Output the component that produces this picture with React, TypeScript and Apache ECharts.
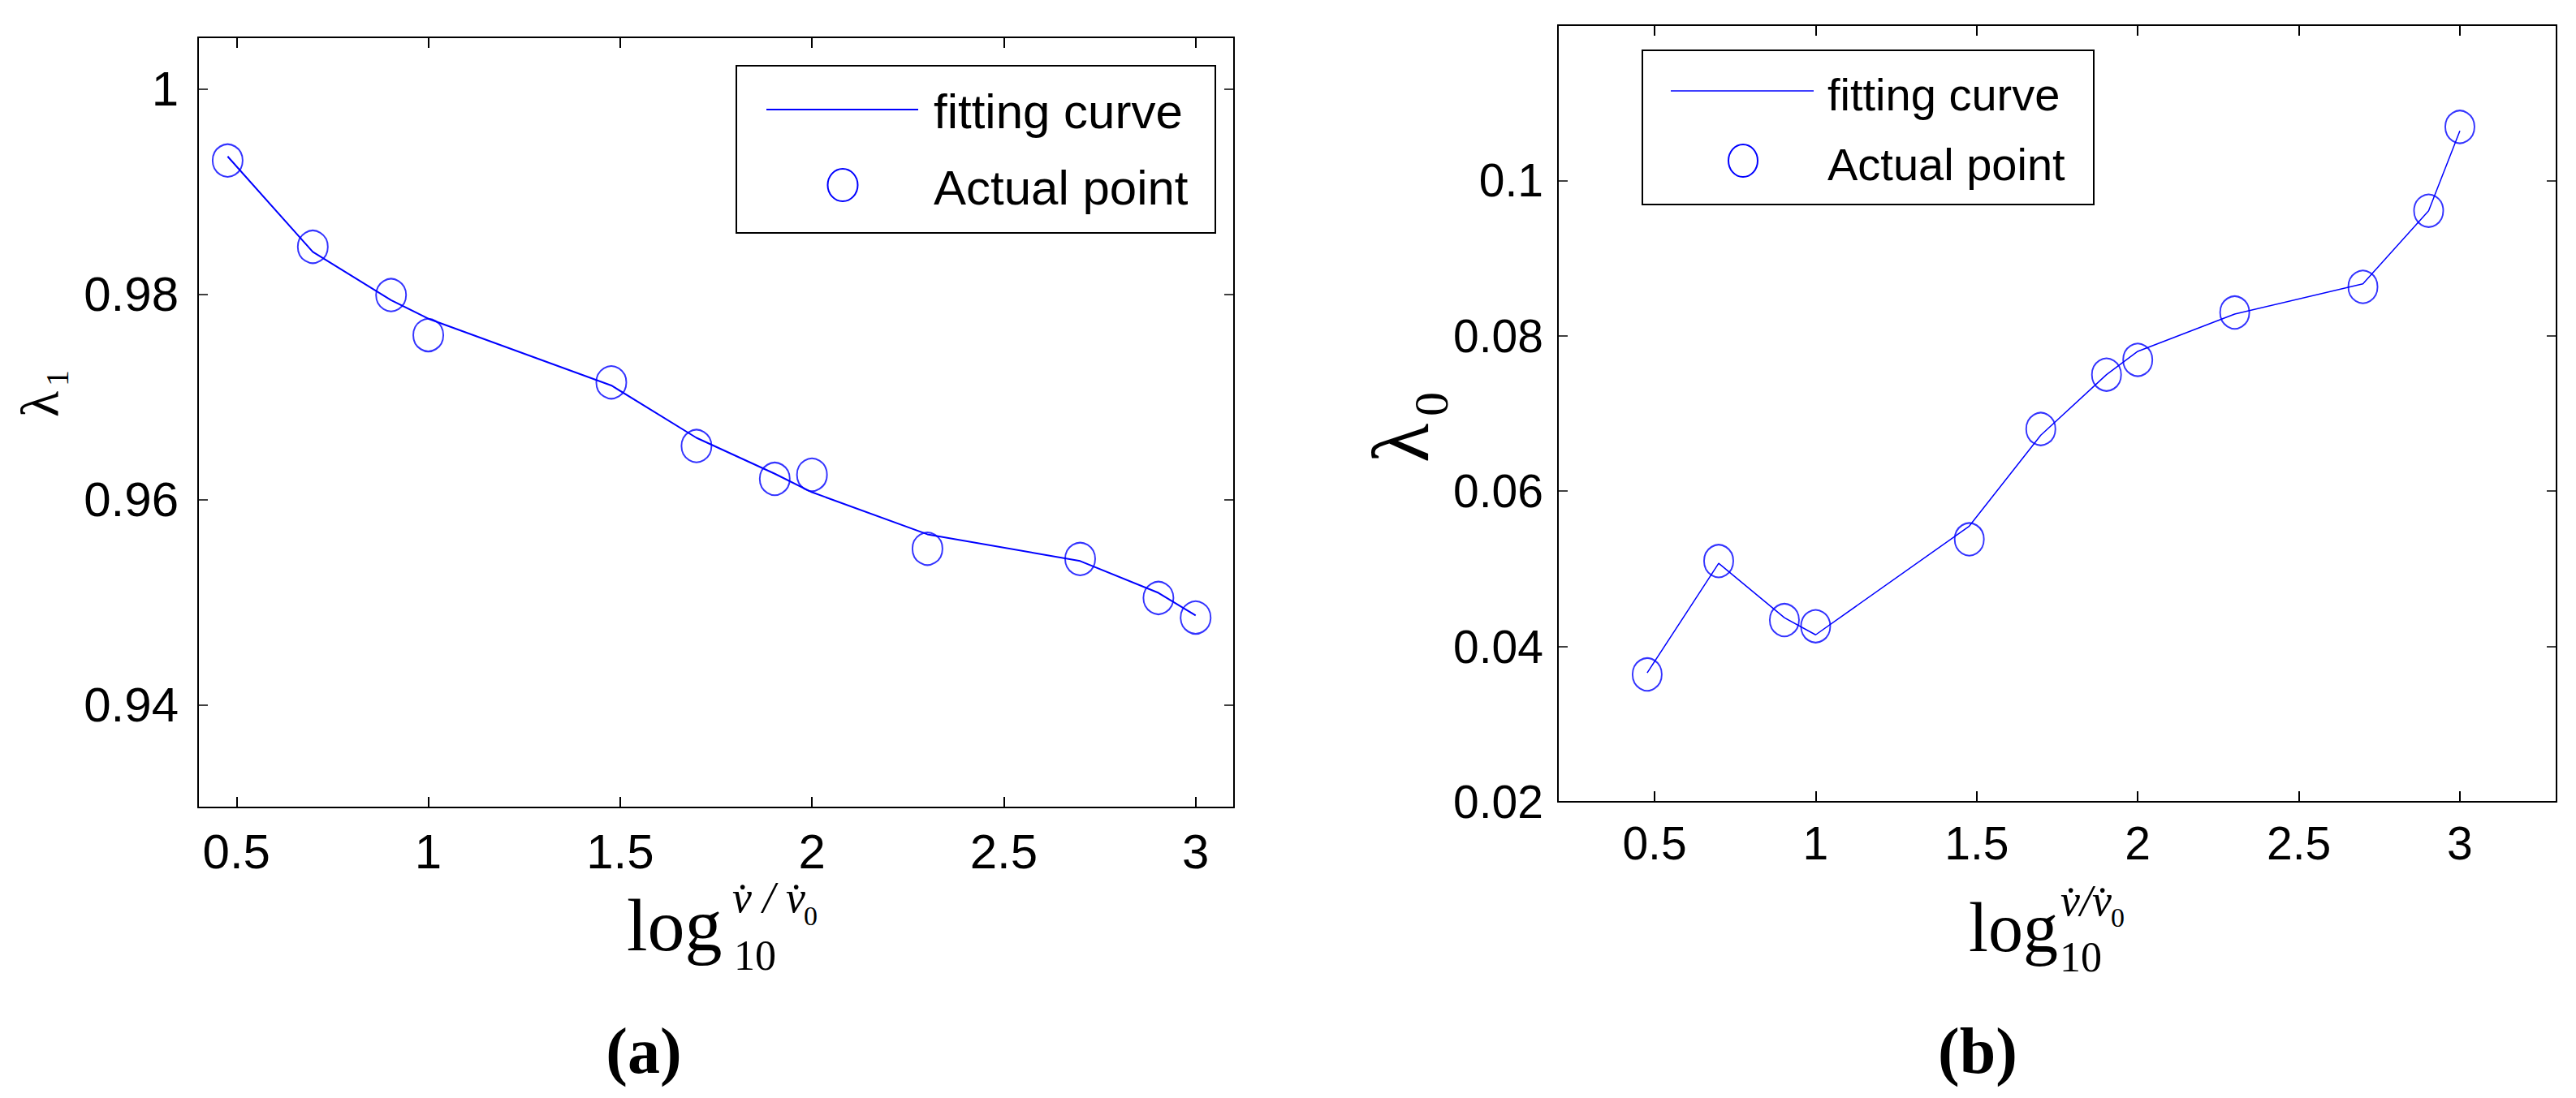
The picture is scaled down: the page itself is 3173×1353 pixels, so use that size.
import React, { useEffect, useRef } from "react";
import * as echarts from "echarts";

// log10 of strain-rate ratios
const xValues = [0.477, 0.699, 0.903, 1.0, 1.477, 1.699, 1.903, 2.0, 2.301, 2.699, 2.903, 3.0];
const lambda1Actual = [0.993, 0.9846, 0.9799, 0.976, 0.9714, 0.9652, 0.962, 0.9624, 0.9552, 0.9542, 0.9504, 0.9485];
const lambda1Fit = [0.9934, 0.9841, 0.9794, 0.9776, 0.9711, 0.966, 0.9625, 0.9607, 0.9566, 0.954, 0.9509, 0.9487];
const lambda0Actual = [0.0364, 0.051, 0.0434, 0.0426, 0.0538, 0.068, 0.075, 0.0769, 0.083, 0.0863, 0.0961, 0.1069];
const lambda0Fit = [0.0366, 0.0507, 0.0437, 0.0415, 0.0555, 0.0672, 0.075, 0.078, 0.0828, 0.0867, 0.0961, 0.1064];
const xTicks = [0.5, 1, 1.5, 2, 2.5, 3];
const yTicksA = [0.94, 0.96, 0.98, 1];
const yTicksB = [0.02, 0.04, 0.06, 0.08, 0.1];
const legendNames = ["fitting curve", "Actual point"];

const SANS = '"Liberation Sans", Arial, Helvetica, sans-serif';
const SERIF = '"Liberation Serif", "Times New Roman", serif';
const BLUE = "#0000ff";

function pairs(xs: number[], ys: number[]) {
  return xs.map((x, i) => [x, ys[i]]);
}

export default function App() {
  const ref = useRef<HTMLDivElement>(null);
  useEffect(() => {
    if (!ref.current) return;
    const chart = echarts.init(ref.current, undefined, { renderer: "svg" });

    const mkX = (grid: number, pos: "bottom" | "top", min: number, max: number, fs: number, margin: number) => ({
      type: "value",
      gridIndex: grid,
      position: pos,
      min,
      max,
      axisLine: { show: true, onZero: false, lineStyle: { color: "#000", width: 2 } },
      axisTick: { show: true, inside: true, length: 13, customValues: xTicks, lineStyle: { color: "#000", width: 2 } },
      axisLabel: {
        show: pos === "bottom",
        customValues: xTicks,
        color: "#000",
        fontSize: fs,
        fontFamily: SANS,
        margin,
      },
      splitLine: { show: false },
    });
    const mkY = (grid: number, pos: "left" | "right", min: number, max: number, ticks: number[], fs: number, margin: number) => ({
      type: "value",
      gridIndex: grid,
      position: pos,
      min,
      max,
      axisLine: { show: true, onZero: false, lineStyle: { color: "#000", width: 2 } },
      axisTick: { show: true, inside: true, length: 12, customValues: ticks, lineStyle: { color: "#000", width: 1.5 } },
      axisLabel: {
        show: pos === "left",
        customValues: ticks,
        color: "#000",
        fontSize: fs,
        fontFamily: SANS,
        margin,
      },
      splitLine: { show: false },
    });

    const legendA = [
      { type: "rect", shape: { x: 907, y: 81, width: 590, height: 206 }, style: { fill: "#fff", stroke: "#000", lineWidth: 2 }, z: 10 },
      { type: "line", shape: { x1: 944, y1: 135, x2: 1131, y2: 135 }, style: { stroke: BLUE, lineWidth: 2 }, z: 11 },
      { type: "ellipse", shape: { cx: 1038, cy: 228, rx: 18.5, ry: 20 }, style: { fill: "none", stroke: BLUE, lineWidth: 2 }, z: 11 },
      { type: "text", x: 1150, y: 137, style: { text: legendNames[0], fontSize: 60, fontFamily: SANS, fill: "#000", align: "left", verticalAlign: "middle" }, z: 11 },
      { type: "text", x: 1150, y: 231, style: { text: legendNames[1], fontSize: 60, fontFamily: SANS, fill: "#000", align: "left", verticalAlign: "middle" }, z: 11 },
    ];
    const legendB = [
      { type: "rect", shape: { x: 2023, y: 62, width: 556, height: 190 }, style: { fill: "#fff", stroke: "#000", lineWidth: 2 }, z: 10 },
      { type: "line", shape: { x1: 2058, y1: 112, x2: 2234, y2: 112 }, style: { stroke: BLUE, lineWidth: 1.5 }, z: 11 },
      { type: "ellipse", shape: { cx: 2147, cy: 198, rx: 18, ry: 20 }, style: { fill: "none", stroke: BLUE, lineWidth: 2 }, z: 11 },
      { type: "text", x: 2251, y: 116, style: { text: legendNames[0], fontSize: 56, fontFamily: SANS, fill: "#000", align: "left", verticalAlign: "middle" }, z: 11 },
      { type: "text", x: 2251, y: 202, style: { text: legendNames[1], fontSize: 56, fontFamily: SANS, fill: "#000", align: "left", verticalAlign: "middle" }, z: 11 },
    ];

    const txt = (x: number, y: number, text: string, size: number, opts: any = {}) => ({
      type: "text",
      x,
      y,
      rotation: opts.rotation || 0,
      style: {
        text,
        fontSize: size,
        fontFamily: SERIF,
        fontWeight: opts.bold ? "bold" : "normal",
        fontStyle: opts.italic ? "italic" : "normal",
        fill: "#000",
        align: opts.align || "left",
        verticalAlign: "middle",
      },
      z: 12,
    });

    const labels = [
      // (a) x label
      txt(772, 1140, "log", 92),
      txt(904, 1177, "10", 52),
      txt(902, 1106, "v\u0307 / v\u0307", 54, { italic: true }),
      txt(990, 1128, "0", 34),
      // (b) x label
      txt(2425, 1143, "log", 86),
      txt(2537, 1179, "10", 52),
      txt(2538, 1110, "v\u0307/v\u0307", 54, { italic: true }),
      txt(2600, 1130, "0", 34),
      // y labels
      txt(48, 498, "\u03bb", 66, { rotation: Math.PI / 2, align: "center" }),
      txt(70, 466, "1", 40, { rotation: Math.PI / 2, align: "center" }),
      txt(1725, 546, "\u03bb", 100, { rotation: Math.PI / 2, align: "center" }),
      txt(1763, 498, "0", 60, { rotation: Math.PI / 2, align: "center" }),
      // panel captions
      txt(793, 1295, "(a)", 80, { bold: true, align: "center" }),
      txt(2436, 1295, "(b)", 80, { bold: true, align: "center" }),
    ];

    const option: any = {
      animation: false,
      backgroundColor: "#fff",
      grid: [
        { left: 244, top: 46, width: 1276, height: 949 },
        { left: 1919, top: 31, width: 1230, height: 957 },
      ],
      xAxis: [
        mkX(0, "bottom", 0.4, 3.1, 60, 24),
        mkX(0, "top", 0.4, 3.1, 60, 24),
        mkX(1, "bottom", 0.2, 3.3, 57, 22),
        mkX(1, "top", 0.2, 3.3, 57, 22),
      ],
      yAxis: [
        mkY(0, "left", 0.93, 1.005, yTicksA, 60, 24),
        mkY(0, "right", 0.93, 1.005, yTicksA, 60, 24),
        mkY(1, "left", 0.02, 0.12, yTicksB, 57, 18),
        mkY(1, "right", 0.02, 0.12, yTicksB, 57, 18),
      ],
      series: [
        {
          name: legendNames[0],
          type: "line",
          xAxisIndex: 0,
          yAxisIndex: 0,
          data: pairs(xValues, lambda1Fit),
          symbol: "none",
          lineStyle: { color: BLUE, width: 2 },
          z: 3,
        },
        {
          name: legendNames[1],
          type: "scatter",
          xAxisIndex: 0,
          yAxisIndex: 0,
          data: pairs(xValues, lambda1Actual),
          symbol: "circle",
          symbolSize: [37, 40],
          itemStyle: { color: "none", borderColor: BLUE, borderWidth: 2 },
          z: 4,
        },
        {
          name: legendNames[0],
          type: "line",
          xAxisIndex: 2,
          yAxisIndex: 2,
          data: pairs(xValues, lambda0Fit),
          symbol: "none",
          lineStyle: { color: BLUE, width: 1.5 },
          z: 3,
        },
        {
          name: legendNames[1],
          type: "scatter",
          xAxisIndex: 2,
          yAxisIndex: 2,
          data: pairs(xValues, lambda0Actual),
          symbol: "circle",
          symbolSize: [36, 40],
          itemStyle: { color: "none", borderColor: BLUE, borderWidth: 2 },
          z: 4,
        },
      ],
      graphic: [...legendA, ...legendB, ...labels],
    };
    chart.setOption(option);
    return () => chart.dispose();
  }, []);

  return (
    <div
      ref={ref}
      style={{ position: "fixed", left: 0, top: 0, width: "3173px", height: "1353px", background: "#fff" }}
    />
  );
}
